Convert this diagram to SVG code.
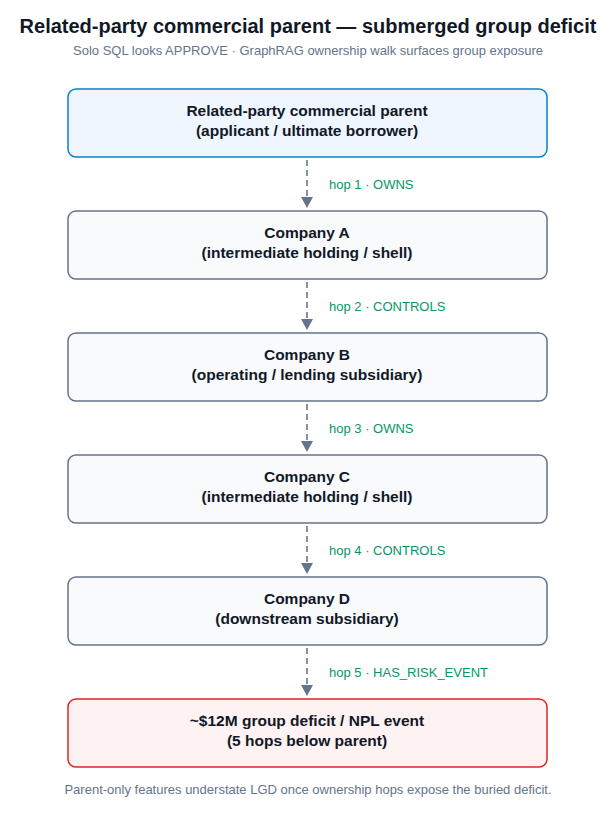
<svg xmlns="http://www.w3.org/2000/svg" width="616" height="817" viewBox="0 0 616 817">
<style>
text{font-family:"Liberation Sans",Arial,sans-serif}
.t{font-size:15.5px;font-weight:bold;fill:#111827;text-anchor:middle}
.n rect{fill:#f8fafc;stroke:#64748b;stroke-width:1.5}
.l{font-size:13px;fill:#059669}
.c line{stroke:#8590a2;stroke-width:2;stroke-dasharray:6,4}
</style>
<rect width="616" height="817" fill="#fff"/>
<text x="308" y="33" style="font-size:20px;font-weight:bold;fill:#111827;text-anchor:middle">Related-party commercial parent — submerged group deficit</text>
<text x="308" y="55" style="font-size:13px;fill:#64748b;text-anchor:middle">Solo SQL looks APPROVE · GraphRAG ownership walk surfaces group exposure</text>
<g class="c">
<path d="M301,197h12l-6,11z" fill="#64748b"/><line x1="307" y1="160" x2="307" y2="197"/>
<path d="M301,319h12l-6,11z" fill="#64748b"/><line x1="307" y1="282" x2="307" y2="319"/>
<path d="M301,441h12l-6,11z" fill="#64748b"/><line x1="307" y1="404" x2="307" y2="441"/>
<path d="M301,563h12l-6,11z" fill="#64748b"/><line x1="307" y1="526" x2="307" y2="563"/>
<path d="M301,685h12l-6,11z" fill="#64748b"/><line x1="307" y1="648" x2="307" y2="685"/>
<text class="l" x="329" y="189">hop 1 · OWNS</text>
<text class="l" x="329" y="311">hop 2 · CONTROLS</text>
<text class="l" x="329" y="433">hop 3 · OWNS</text>
<text class="l" x="329" y="555">hop 4 · CONTROLS</text>
<text class="l" x="329" y="677">hop 5 · HAS_RISK_EVENT</text>
</g>
<g id="parent"><rect x="68" y="89" width="479" height="68" rx="8" fill="#eff6ff" stroke="#0284c7" stroke-width="1.5"/><text class="t" x="307" y="116">Related-party commercial parent</text><text class="t" x="307" y="136">(applicant / ultimate borrower)</text></g>
<g id="a1" class="n"><rect x="68" y="211" width="479" height="68" rx="8"/><text class="t" x="307" y="238">Company A</text><text class="t" x="307" y="258">(intermediate holding / shell)</text></g>
<g id="b1" class="n"><rect x="68" y="333" width="479" height="68" rx="8"/><text class="t" x="307" y="360">Company B</text><text class="t" x="307" y="380">(operating / lending subsidiary)</text></g>
<g id="c1" class="n"><rect x="68" y="455" width="479" height="68" rx="8"/><text class="t" x="307" y="482">Company C</text><text class="t" x="307" y="502">(intermediate holding / shell)</text></g>
<g id="d1" class="n"><rect x="68" y="577" width="479" height="68" rx="8"/><text class="t" x="307" y="604">Company D</text><text class="t" x="307" y="624">(downstream subsidiary)</text></g>
<g id="deficit"><rect x="68" y="699" width="479" height="68" rx="8" fill="#fef2f2" stroke="#dc2626" stroke-width="1.5"/><text class="t" x="307" y="726">~$12M group deficit / NPL event</text><text class="t" x="307" y="746">(5 hops below parent)</text></g>
<text x="308" y="794" style="font-size:13px;fill:#64748b;text-anchor:middle">Parent-only features understate LGD once ownership hops expose the buried deficit.</text>
</svg>
